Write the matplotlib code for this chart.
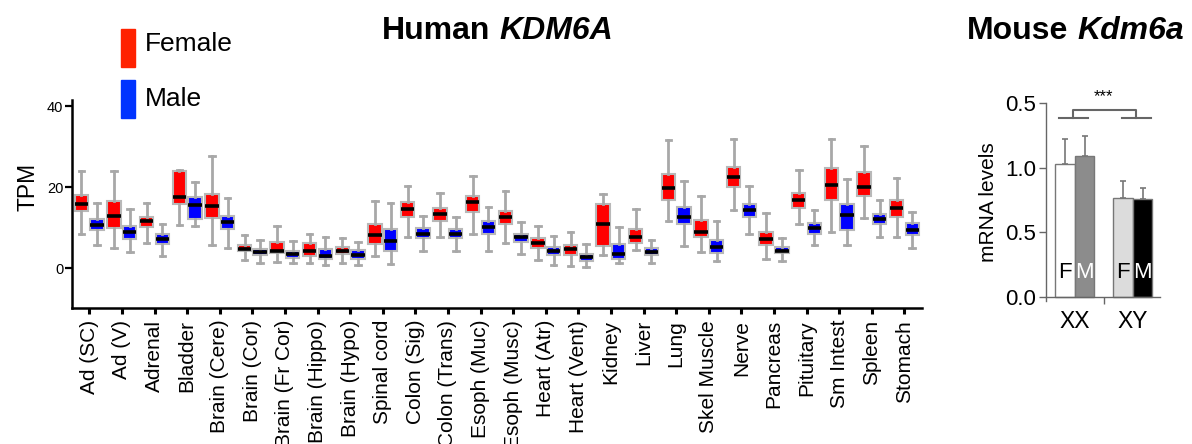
import numpy as np
import matplotlib
matplotlib.use("Agg")
import matplotlib.pyplot as plt
from matplotlib.patches import Rectangle

plt.rcParams['font.family'] = ['Liberation Sans', 'DejaVu Sans']

# --- data: human KDM6A TPM per tissue (box stats) ----------------------------
tissues = ["Ad (SC)", "Ad (V)", "Adrenal", "Bladder", "Brain (Cere)", "Brain (Cor)",
           "Brain (Fr Cor)", "Brain (Hippo)", "Brain (Hypo)", "Spinal cord",
           "Colon (Sig)", "Colon (Trans)", "Esoph (Muc)", "Esoph (Musc)",
           "Heart (Atr)", "Heart (Vent)", "Kidney", "Liver", "Lung", "Skel Muscle",
           "Nerve", "Pancreas", "Pituitary", "Sm Intest", "Spleen", "Stomach"]

f_lo  = [8.5, 5.0, 6.3, 10.7, 5.8, 2.1, 1.6, 1.2, 1.2, 3.0, 7.8, 7.8, 8.5, 6.3,
         2.1, 0.7, 3.3, 4.5, 11.7, 4.0, 14.5, 2.3, 10.9, 9.1, 12.5, 7.8]
f_q1  = [14.2, 10.0, 10.3, 16.0, 12.5, 4.3, 3.8, 3.1, 3.5, 5.9, 12.7, 11.8, 13.9, 10.9,
         5.0, 3.3, 5.4, 6.2, 16.8, 7.7, 20.0, 5.8, 14.9, 16.8, 18.0, 12.8]
f_med = [16.0, 12.9, 11.7, 17.6, 15.3, 4.9, 4.4, 4.2, 4.2, 8.2, 14.6, 13.4, 16.5, 12.7,
         6.2, 4.7, 10.9, 7.7, 19.8, 9.1, 22.5, 7.2, 17.0, 20.7, 20.0, 14.8]
f_q3  = [18.1, 16.6, 12.8, 24.0, 18.4, 5.8, 6.6, 6.3, 5.2, 10.9, 16.3, 15.0, 17.9, 14.2,
         7.4, 5.7, 15.8, 9.6, 23.2, 12.0, 25.1, 9.1, 18.7, 24.9, 23.9, 16.8]
f_hi  = [24.1, 24.1, 16.1, 24.4, 27.7, 8.2, 10.5, 8.5, 7.6, 16.7, 20.4, 18.7, 22.9, 19.0,
         10.4, 9.1, 18.4, 14.6, 31.8, 17.9, 32.0, 13.7, 24.3, 31.9, 30.2, 22.4]

m_lo  = [5.8, 4.0, 3.1, 10.5, 5.0, 1.4, 1.4, 0.9, 0.9, 1.1, 4.4, 4.4, 4.4, 3.6,
         0.9, 0.3, 1.4, 1.2, 5.6, 1.8, 8.5, 1.9, 5.7, 5.8, 7.8, 5.1]
m_q1  = [9.5, 7.2, 6.1, 12.1, 9.8, 3.4, 2.6, 2.2, 2.4, 4.3, 7.5, 7.5, 8.6, 6.4,
         3.3, 1.8, 2.3, 3.2, 10.9, 3.7, 12.8, 3.7, 8.6, 9.5, 10.9, 8.2]
m_med = [10.7, 8.9, 7.2, 15.6, 11.4, 4.0, 3.5, 3.0, 3.3, 6.7, 8.6, 8.5, 10.2, 7.7,
         4.3, 2.7, 3.5, 4.0, 12.8, 5.3, 14.4, 4.4, 10.0, 13.1, 12.2, 9.5]
m_q3  = [12.2, 10.5, 8.4, 17.7, 12.9, 4.9, 4.3, 4.8, 4.5, 9.8, 10.0, 9.6, 11.6, 8.6,
         5.2, 3.5, 5.9, 5.1, 15.2, 7.0, 16.0, 5.2, 11.1, 15.9, 13.5, 11.1]
m_hi  = [16.1, 14.7, 10.9, 21.4, 17.4, 7.0, 6.7, 7.8, 6.6, 16.2, 13.0, 12.8, 15.1, 11.4,
         7.9, 5.9, 10.1, 7.1, 21.7, 11.8, 20.4, 7.6, 14.5, 22.1, 17.0, 13.9]

# --- data: mouse Kdm6a mRNA levels --------------------------------------------
groups = ["XX", "XY"]
bar_labels = ["F", "M", "F", "M"]
bar_means = [1.026, 1.092, 0.769, 0.754]
bar_sem = [0.197, 0.149, 0.131, 0.087]
bar_colors = ["white", "#8c8c8c", "#dcdcdc", "black"]
bar_text_colors = ["black", "white", "black", "white"]

W, H = 1192, 444
fig = plt.figure(figsize=(W / 100, H / 100), dpi=100)


def stats(lo, q1, med, q3, hi):
    return [dict(whislo=a, q1=b, med=c, q3=d, whishi=e, fliers=[])
            for a, b, c, d, e in zip(lo, q1, med, q3, hi)]


# --- left panel ---------------------------------------------------------------
ax = fig.add_axes([71.7 / W, (H - 308) / H, 850 / W, 208 / H])
x = np.arange(len(tissues))
common = dict(widths=0.41, patch_artist=True, manage_ticks=False, capwidths=0.17,
              whiskerprops=dict(color="#a8a8a8", linewidth=2.0),
              capprops=dict(color="#a8a8a8", linewidth=2.0),
              medianprops=dict(color="black", linewidth=2.6, solid_capstyle="butt"))
ax.bxp(stats(f_lo, f_q1, f_med, f_q3, f_hi), positions=x - 0.24,
       boxprops=dict(facecolor="#ff0000", edgecolor="#b8b8b8", linewidth=1.5), **common)
ax.bxp(stats(m_lo, m_q1, m_med, m_q3, m_hi), positions=x + 0.24,
       boxprops=dict(facecolor="#0000ff", edgecolor="#b8b8b8", linewidth=1.5), **common)

ax.set_xlim(-0.54, 25.53)
ax.set_ylim(-9.8, 41.6)
ax.set_yticks([0, 20, 40])
ax.set_xticks(x)
ax.set_xticklabels(tissues, rotation=90, fontsize=15)
ax.tick_params(axis="y", labelsize=10.5, length=5, width=1.6, pad=1)
ax.tick_params(axis="x", length=4.5, width=2.2, pad=4)
for s in ["top", "right"]:
    ax.spines[s].set_visible(False)
for s in ["left", "bottom"]:
    ax.spines[s].set_linewidth(1.8)
ax.set_ylabel("TPM", fontsize=16.5)
ax.yaxis.set_label_coords(-0.038, (20 + 9.8) / 51.4)

# legend (tall colour bars + labels)
fig.patches.append(Rectangle((121 / W, (H - 66.7) / H), 14 / W, 37.7 / H,
                             transform=fig.transFigure, color="#ff2200"))
fig.patches.append(Rectangle((121 / W, (H - 117.7) / H), 14 / W, 37.7 / H,
                             transform=fig.transFigure, color="#0033ff"))
fig.text(145 / W, (H - 44.3) / H, "Female", fontsize=19, va="center", ha="left")
fig.text(145 / W, (H - 99) / H, "Male", fontsize=19, va="center", ha="left")


def two_part_title(x0, y0, plain, ital, size=23):
    t1 = fig.text(x0, y0, plain, fontsize=size, fontweight="bold", ha="left", va="center")
    r = fig.canvas.get_renderer()
    bb = t1.get_window_extent(r)
    gap = 0.278 * size * 100 / 72
    fig.text((bb.x1 + gap) / W, y0, ital, fontsize=size, fontweight="bold",
             style="italic", ha="left", va="center")


two_part_title(381.7 / W, (H - 31) / H, "Human", "KDM6A")
two_part_title(966.7 / W, (H - 31) / H, "Mouse", "Kdm6a")

# --- right panel --------------------------------------------------------------
ax2 = fig.add_axes([1046 / W, (H - 301.2) / H, 114 / W, 198.5 / H])
bx = [-0.168, 0.168, 0.832, 1.168]
ax2.bar(bx, bar_means, width=0.336, color=bar_colors, edgecolor="#777777", linewidth=1.0,
        yerr=[[0] * 4, bar_sem], error_kw=dict(ecolor="#777777", elinewidth=1.2,
                                                capsize=2.5, capthick=1.2))
for xi, lab, c in zip(bx, bar_labels, bar_text_colors):
    ax2.text(xi, 0.19, lab, ha="center", va="center", fontsize=16, color=c)

ax2.set_xlim(-0.5, 1.47)
ax2.set_ylim(-0.03, 1.5)
ax2.spines["bottom"].set_position(("data", 0))
for s in ["top", "right"]:
    ax2.spines[s].set_visible(False)
for s in ["left", "bottom"]:
    ax2.spines[s].set_color("#666666")
    ax2.spines[s].set_linewidth(1.0)
ax2.set_yticks([0, 0.5, 1.0, 1.5])
ax2.set_yticklabels(["0.0", "0.5", "1.0", "0.5"])
ax2.tick_params(axis="y", labelsize=16, length=5, width=1.0, color="#666666", pad=2)
ax2.set_xticks([0, 1])
ax2.set_xticklabels(groups)
ax2.tick_params(axis="x", which="major", labelsize=16.5, length=0, pad=9)
ax2.set_xticks([0.5], minor=True)
ax2.tick_params(axis="x", which="minor", length=5, width=1.0, color="#666666")
ax2.set_ylabel("mRNA levels", fontsize=15, labelpad=5)

# significance bracket
br = dict(color="#666666", linewidth=1.5, clip_on=False)
ax2.plot([-0.276, 0.224], [1.382, 1.382], **br)
ax2.plot([0.81, 1.31], [1.382, 1.382], **br)
ax2.plot([-0.03, -0.03, 1.05, 1.05], [1.382, 1.446, 1.446, 1.382], **br)
ax2.text(0.5, 1.545, "***", ha="center", va="center", fontsize=12)

fig.savefig("out.png", dpi=100)
